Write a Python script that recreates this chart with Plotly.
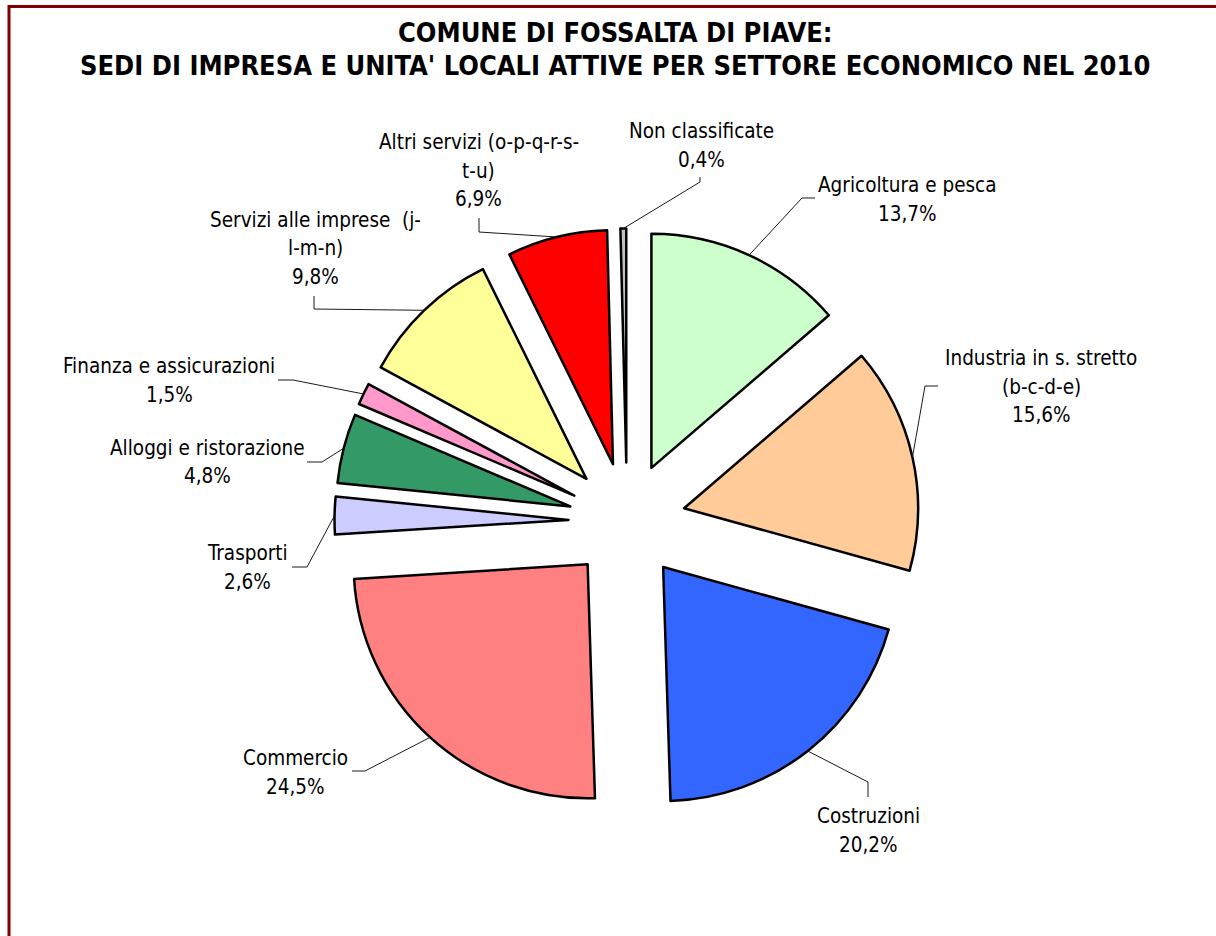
import math
import plotly.graph_objects as go

# ---------------- data ----------------
categories = [
    "Agricoltura e pesca",
    "Industria in s. stretto (b-c-d-e)",
    "Costruzioni",
    "Commercio",
    "Trasporti",
    "Alloggi e ristorazione",
    "Finanza e assicurazioni",
    "Servizi alle imprese  (j-l-m-n)",
    "Altri servizi (o-p-q-r-s-t-u)",
    "Non classificate",
]
shares = [13.7, 15.6, 20.2, 24.5, 2.6, 4.8, 1.5, 9.8, 6.9, 0.4]
label_lines = [
    ["Agricoltura e pesca"],
    ["Industria in s. stretto", "(b-c-d-e)"],
    ["Costruzioni"],
    ["Commercio"],
    ["Trasporti"],
    ["Alloggi e ristorazione"],
    ["Finanza e assicurazioni"],
    ["Servizi alle imprese\u00a0 (j-", "l-m-n)"],
    ["Altri servizi (o-p-q-r-s-", "t-u)"],
    ["Non classificate"],
]
title_lines = [
    "COMUNE DI FOSSALTA DI PIAVE:",
    "SEDI DI IMPRESA E UNITA' LOCALI ATTIVE PER SETTORE ECONOMICO NEL 2010",
]

# ---------------- styles / layout ----------------
colors = ["#CCFFCC", "#FFCC99", "#3366FF", "#FF8080", "#CCCCFF",
          "#339966", "#FF99CC", "#FFFF99", "#FF0000", "#C0C0C0"]
W, H = 1216, 936
CX, CY = 627, 521          # pie centre (px)
R = 234                    # pie radius (px)
PULL = 0.25
FONT = "DejaVu Sans Condensed, DejaVu Sans, sans-serif"
LINE_GAP = 28.5

# label placement: (text centre x, first line centre y, leader elbow, leader end)
label_pos = [
    (907, 185.5, (802, 198), (815, 198)),
    (1041, 358, (925, 386), (938, 386)),
    (868.5, 816, (868, 782), (868, 797)),
    (295, 758, (365, 771), (352, 771)),
    (247, 553, (307, 567), (292, 567)),
    (207, 448, (322, 462), (307, 462)),
    (169, 366, (293, 380), (278, 380)),
    (315.5, 220, (314, 309), (314, 296)),
    (478.5, 142, (479, 232), (479, 218)),
    (701, 131, (700, 182), (700, 177)),
]


def px(x):
    return x / W


def py(y):
    return 1 - y / H


half = R * (1 + PULL)
fig = go.Figure(go.Pie(
    labels=categories,
    values=shares,
    sort=False,
    direction="clockwise",
    rotation=0,
    pull=PULL,
    marker=dict(colors=colors, line=dict(color="#000000", width=2.5)),
    textinfo="none",
    hoverinfo="label+percent",
    showlegend=False,
    domain=dict(x=[px(CX - half), px(CX + half)],
                y=[py(CY + half), py(CY - half)]),
))

annotations = []
shapes = []
total = sum(shares)
cum = 0.0
for i, v in enumerate(shares):
    mid = (cum + v / 2) / total * 2 * math.pi
    cum += v
    d = R * (1 + PULL)
    sx = CX + d * math.sin(mid)
    sy = CY - d * math.cos(mid)
    tx, ty, (ex, ey), (fx, fy) = label_pos[i]
    shapes.append(dict(
        type="path", xref="paper", yref="paper",
        path=f"M {px(sx)},{py(sy)} L {px(ex)},{py(ey)} L {px(fx)},{py(fy)}",
        line=dict(color="#1a1a1a", width=1),
    ))
    lines = label_lines[i] + [f"{v:.1f}".replace(".", ",") + "%"]
    for k, t in enumerate(lines):
        annotations.append(dict(
            x=px(tx), y=py(ty + k * LINE_GAP), xref="paper", yref="paper",
            text=t, showarrow=False, xanchor="center", yanchor="middle",
            font=dict(family=FONT, size=20.5, color="#000000"),
        ))

title_y = [32.5, 66]
for t, y in zip(title_lines, title_y):
    annotations.append(dict(
        x=px(615), y=py(y), xref="paper", yref="paper",
        text=f"<b>{t}</b>", showarrow=False, xanchor="center", yanchor="middle",
        font=dict(family=FONT, size=27, color="#000000"),
    ))

# chart frame (dark red), partly cut by the picture edge
shapes.append(dict(type="rect", xref="paper", yref="paper",
                   x0=px(9), x1=1.05, y0=-0.05, y1=py(6.5),
                   line=dict(color="#800000", width=3), fillcolor="rgba(0,0,0,0)"))

fig.update_layout(
    width=W, height=H, autosize=False,
    margin=dict(l=0, r=0, t=0, b=0),
    paper_bgcolor="#FFFFFF", plot_bgcolor="#FFFFFF",
    annotations=annotations, shapes=shapes,
)
fig.write_html(
    "out.html",
    config={"displayModeBar": False},
    post_script="document.body.style.margin='0';document.body.style.overflow='hidden';",
)
